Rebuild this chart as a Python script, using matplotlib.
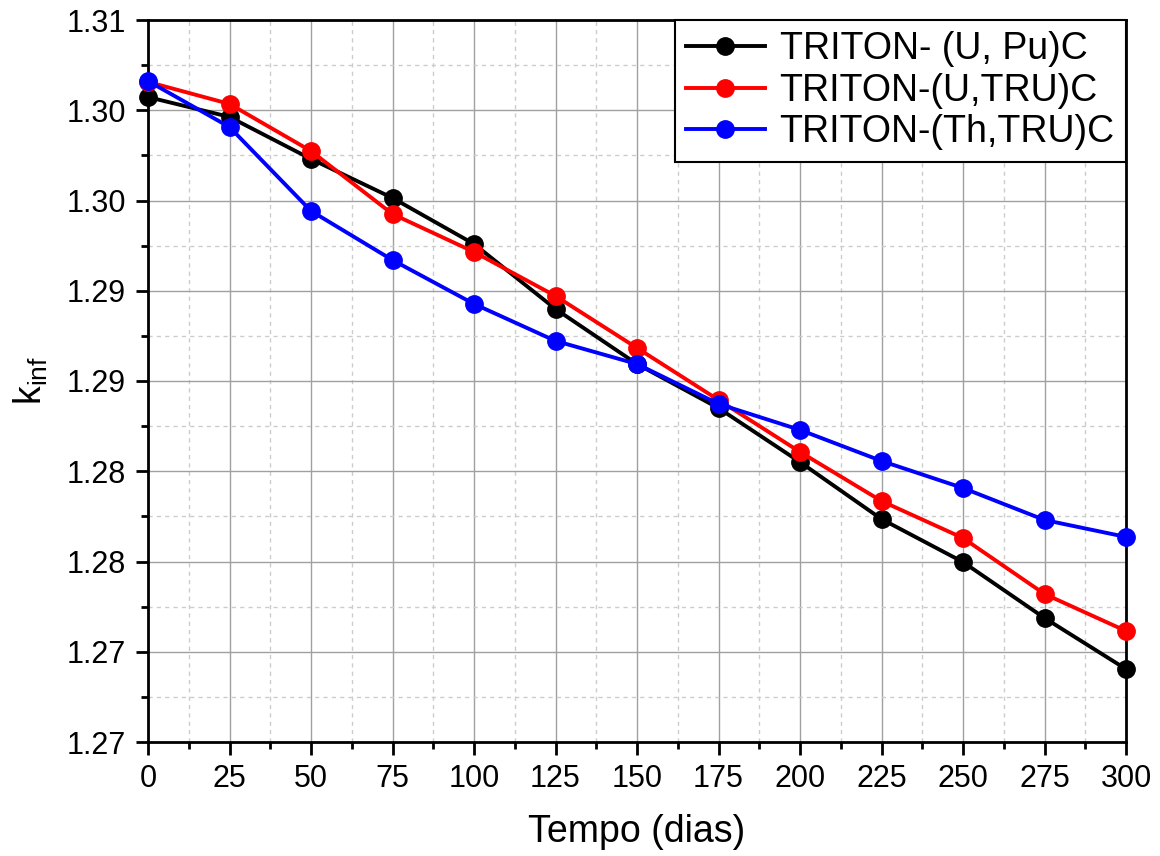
import matplotlib
matplotlib.use("Agg")
import matplotlib.pyplot as plt
from matplotlib.ticker import MultipleLocator, FixedLocator

# Burnup data (days vs k_inf)
tempo = [0, 25, 50, 75, 100, 125, 150, 175, 200, 225, 250, 275, 300]
k_u_pu = [1.30573, 1.30463, 1.3023, 1.30014, 1.29759, 1.29399, 1.29094,
          1.2885, 1.28551, 1.28235, 1.27997, 1.27687, 1.27404]
k_u_tru = [1.30657, 1.30535, 1.30274, 1.29925, 1.29715, 1.29471, 1.29183,
           1.28895, 1.28607, 1.28335, 1.2813, 1.2782, 1.27615]
k_th_tru = [1.30662, 1.30407, 1.29942, 1.2967, 1.29427, 1.29222, 1.29094,
            1.28873, 1.28729, 1.28557, 1.28407, 1.2823, 1.28136]
labels = ["TRITON- (U, Pu)C", "TRITON-(U,TRU)C", "TRITON-(Th,TRU)C"]
colors = ["black", "red", "blue"]

y_ticks = [1.270, 1.275, 1.280, 1.285, 1.290, 1.295, 1.300, 1.305, 1.310]
y_tick_labels = ["1.27", "1.27", "1.28", "1.28", "1.29", "1.29", "1.30", "1.30", "1.31"]

plt.rcParams["font.family"] = ["Liberation Sans", "DejaVu Sans"]
plt.rcParams["mathtext.default"] = "regular"

fig = plt.figure(figsize=(11.6, 8.56), dpi=100)
ax = fig.add_axes([148 / 1160, 1 - 742 / 856, (1126 - 148) / 1160, (742 - 20) / 856])

for ys, lab, c in zip([k_u_pu, k_u_tru, k_th_tru], labels, colors):
    ax.plot(tempo, ys, color=c, lw=2.8, marker="o", ms=12.5, label=lab, clip_on=False, zorder=3)

ax.set_xlim(0, 300)
ax.set_ylim(1.270, 1.310)
ax.xaxis.set_major_locator(MultipleLocator(25))
ax.xaxis.set_minor_locator(MultipleLocator(12.5))
ax.yaxis.set_major_locator(FixedLocator(y_ticks))
ax.set_yticklabels(y_tick_labels)
ax.yaxis.set_minor_locator(MultipleLocator(0.0025))

ax.grid(which="major", color="#a0a0a0", lw=1.0, ls="-")
ax.grid(which="minor", color="#cccccc", lw=1.0, ls=(0, (3, 3)))
ax.set_axisbelow(True)

for s in ax.spines.values():
    s.set_linewidth(2)
ax.tick_params(which="major", direction="out", length=9, width=2, labelsize=22, pad=7)
ax.tick_params(which="minor", direction="out", length=5, width=2)

ax.set_xlabel("Tempo (dias)", fontsize=27, labelpad=14)
ax.set_ylabel("k$_{inf}$", fontsize=27, labelpad=12)

leg = ax.legend(loc="upper right", fontsize=27, frameon=True, fancybox=False,
                borderaxespad=0, handlelength=2.1, handletextpad=0.4,
                labelspacing=0.15, borderpad=0.3)
leg.get_frame().set_edgecolor("black")
leg.get_frame().set_linewidth(1.5)
leg.get_frame().set_alpha(1)

plt.savefig("out.png", dpi=100)
